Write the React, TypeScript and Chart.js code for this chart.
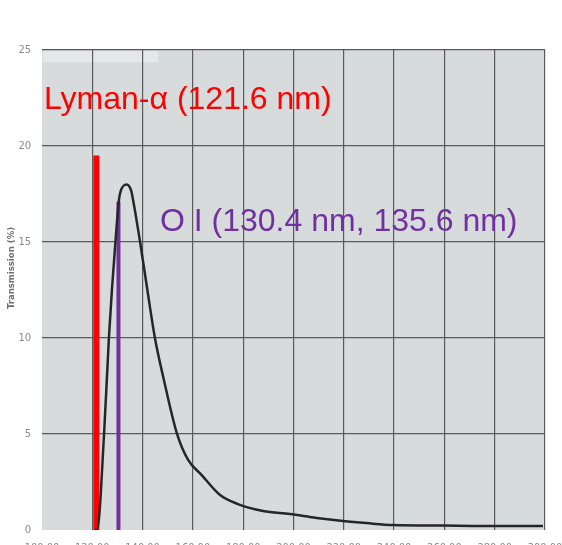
import React, { useEffect, useRef } from "react";
import { Chart, registerables } from "chart.js";

Chart.register(...registerables);

// Transmission curve of the filter (wavelength in nm, transmission in %)
const curveWavelength = [121.0, 121.9, 124.7, 126.6, 127.8, 129.2, 130.6, 131.4, 133.7, 135.4, 136.2, 139.0, 141.9, 144.9, 148.5, 153.6, 158.1, 163.5, 170.8, 177.9, 187.9, 198.6, 209.2, 219.7, 229.1, 239.6, 259.4, 275.3, 299.2];
const curveTransmission = [0, 0, 5.05, 10.0, 12.5, 15.0, 17.2, 17.7, 18.0, 17.7, 17.2, 15.0, 12.5, 10.0, 7.8, 5.05, 3.65, 2.86, 1.82, 1.35, 0.99, 0.83, 0.63, 0.47, 0.36, 0.26, 0.23, 0.21, 0.21];

// Emission line markers
const lymanAlphaNm = 121.6;
const lymanAlphaHeight = 19.5;
const oxygenNm = 130.4;
const oxygenHeight = 17.1;

const lymanLabel = "Lyman-α (121.6 nm)";
const oxygenLabel = "O I (130.4 nm, 135.6 nm)";
const yAxisTitle = "Transmission (%)";

const xMin = 100;
const xMax = 300;
const xStep = 20;
const yMin = 0;
const yMax = 25;
const yStep = 5;

const W = 562;
const H = 565;

const tickFont = { family: "'Liberation Sans Narrow', 'DejaVu Sans Condensed', sans-serif", size: 11 };

const paperPlugin = {
  id: "paper",
  beforeDraw(chart: any) {
    const { ctx, chartArea } = chart;
    ctx.save();
    ctx.fillStyle = "#ffffff";
    ctx.fillRect(0, 0, chart.width, chart.height);
    ctx.fillStyle = "#d8dbdc";
    ctx.fillRect(chartArea.left, chartArea.top, chartArea.right - chartArea.left, chartArea.bottom - chartArea.top);
    // lighter strip along the top-left of the plot
    ctx.fillStyle = "#e5e8e9";
    ctx.fillRect(chartArea.left + 1, chartArea.top + 1, 115, 11);
    ctx.restore();
  },
};

const annotationPlugin = {
  id: "annotations",
  afterDraw(chart: any) {
    const { ctx } = chart;
    ctx.save();
    ctx.font = "32px 'Liberation Sans', Arial, sans-serif";
    ctx.textAlign = "left";
    ctx.textBaseline = "alphabetic";
    ctx.fillStyle = "#ff0000";
    ctx.fillText(lymanLabel, 44, 109);
    ctx.fillStyle = "#7030a0";
    ctx.fillText(oxygenLabel, 160, 231);

    ctx.translate(12, 268);
    ctx.rotate(-Math.PI / 2);
    ctx.font = "bold 9.5px 'Liberation Sans Narrow', 'DejaVu Sans Condensed', sans-serif";
    ctx.fillStyle = "#6e6e6e";
    ctx.textAlign = "center";
    ctx.textBaseline = "middle";
    ctx.fillText(yAxisTitle, 0, 0);
    ctx.restore();
  },
};

export default function App() {
  const canvasRef = useRef<HTMLCanvasElement | null>(null);

  useEffect(() => {
    const canvas = canvasRef.current;
    if (!canvas) return;

    const curve = curveWavelength.map((x, i) => ({ x, y: curveTransmission[i] }));

    const chart = new Chart(canvas, {
      type: "line",
      data: {
        datasets: [
          {
            label: "Transmission",
            data: curve,
            borderColor: "#262626",
            borderWidth: 2.5,
            pointRadius: 0,
            cubicInterpolationMode: "monotone",
            fill: false,
          },
          {
            label: "Lyman-α",
            data: [
              { x: lymanAlphaNm, y: 0 },
              { x: lymanAlphaNm, y: lymanAlphaHeight },
            ],
            borderColor: "#ff0000",
            borderWidth: 6,
            borderCapStyle: "butt",
            pointRadius: 0,
          },
          {
            label: "O I",
            data: [
              { x: oxygenNm, y: 0 },
              { x: oxygenNm, y: oxygenHeight },
            ],
            borderColor: "#7030a0",
            borderWidth: 4,
            borderCapStyle: "butt",
            pointRadius: 0,
          },
        ],
      },
      options: {
        responsive: false,
        animation: false,
        devicePixelRatio: 1,
        layout: { padding: { top: 50, right: 17, left: 0, bottom: 0 } },
        plugins: {
          legend: { display: false },
          tooltip: { enabled: false },
        },
        scales: {
          x: {
            type: "linear",
            min: xMin,
            max: xMax,
            afterFit: (scale: any) => {
              scale.height = H - 530;
              scale.paddingLeft = 0;
              scale.paddingRight = 0;
            },
            ticks: {
              stepSize: xStep,
              padding: 12,
              color: "#8a8a8a",
              font: tickFont,
              maxRotation: 0,
              callback: (v: any) => Number(v).toFixed(2),
            },
            grid: {
              drawTicks: false,
              lineWidth: 1.2,
              color: (c: any) => (c.tick && c.tick.value === xMin ? "rgba(0,0,0,0)" : "#5a5a5a"),
            },
            border: { display: false },
          },
          y: {
            type: "linear",
            min: yMin,
            max: yMax,
            afterFit: (scale: any) => {
              scale.width = 42;
              scale.paddingTop = 0;
              scale.paddingBottom = 0;
            },
            ticks: {
              stepSize: yStep,
              padding: 11,
              color: "#8a8a8a",
              font: tickFont,
            },
            grid: {
              drawTicks: false,
              lineWidth: 1.2,
              color: (c: any) => (c.tick && c.tick.value === yMin ? "rgba(0,0,0,0)" : "#5a5a5a"),
            },
            border: { display: false },
          },
        },
      },
      plugins: [paperPlugin, annotationPlugin],
    });

    return () => chart.destroy();
  }, []);

  return (
    <div style={{ position: "fixed", left: 0, top: 0, width: W, height: H, background: "#ffffff" }}>
      <canvas ref={canvasRef} width={W} height={H} style={{ width: W, height: H, display: "block" }} />
    </div>
  );
}
